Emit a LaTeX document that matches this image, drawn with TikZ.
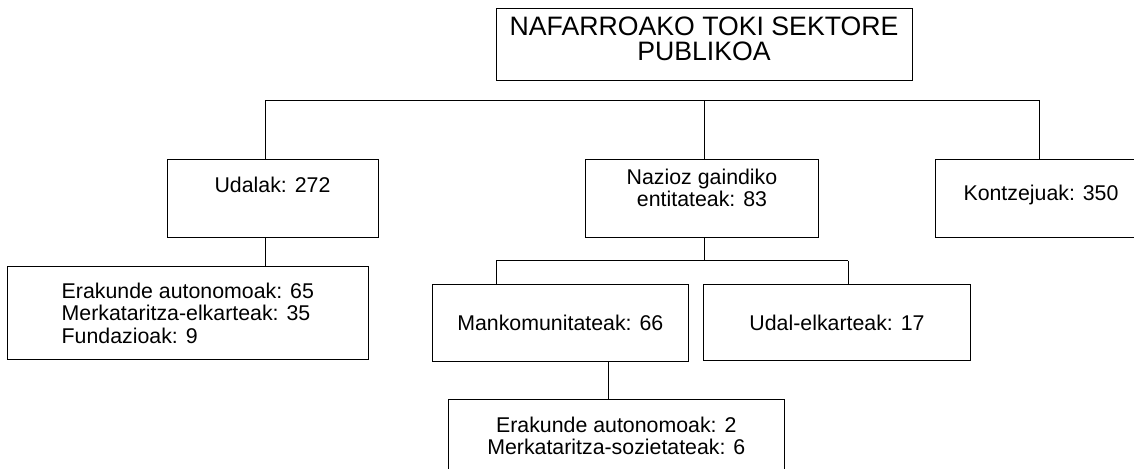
\documentclass[tikz,border=0pt]{standalone}
\usepackage{fontspec}
\setmainfont{Liberation Sans}

\tikzset{every picture/.style={line width=0.75pt}}
\tikzset{
	box/.style={draw, rectangle, inner sep=2pt, align=center, font=\fontsize{16}{17}\selectfont},
	headbox/.style={box, font=\fontsize{20}{19}\selectfont}
}

\begin{document}
\begin{tikzpicture}[x=0.75pt,y=0.75pt,yscale=-1,xscale=1]
		%set diagram to the page size
		\useasboundingbox (0,0) rectangle (1134,468);
		
		% Top box
		\node[headbox, minimum width=312pt, minimum height=54.2pt, text depth=9pt] (sektore) at (704,44.85) {NAFARROAKO TOKI SEKTORE\\PUBLIKOA};
		
		% First level
		\node[box, minimum width=158.25pt, minimum height=58.5pt, text depth=20pt] (udalak) at (272.5,198.3) {Udalak: 272};
		\node[box, minimum width=174.5pt, minimum height=58.5pt, text depth=15.6pt] (nazioz) at (702,198.3) {Nazioz gaindiko\\entitateak: 83};
		\node[box, minimum width=157.7pt, minimum height=58.5pt, text depth=8pt] (kontzejuak) at (1041,198.3) {Kontzejuak: 350};
		
		% Second level
		\node[box, align=left, minimum width=270.75pt, minimum height=70pt] (udalerakunde) at (187.8,313.3) {Erakunde autonomoak: 65\\Merkataritza-elkarteak: 35\\Fundazioak: 9};
		\node[box, minimum width=192pt, minimum height=57.5pt] (mankom) at (560.3,322.7) {Mankomunitateak: 66};
		\node[box, minimum width=200pt, minimum height=57.3pt] (udalelk) at (837,322.5) {Udal-elkarteak: 17};
		
		% Third level
		\node[box, minimum width=252pt, minimum height=55.5pt] (mankerakunde) at (616.3,436) {Erakunde autonomoak: 2\\Merkataritza-sozietateak: 6};
		
		% Junction points
		\coordinate (busL) at (265.7,100);
		\coordinate (busM) at (704,100);
		\coordinate (busR) at (1039,100);
		\coordinate (subL) at (496,260.7);
		\coordinate (subR) at (848.3,260.7);
		\coordinate (mankdrop) at (608.3,380);
		
		%Straight Lines
		\draw (busL) -- (busR);
		\draw (busL) -- (busL |- udalak.north);
		\draw (busM) -- (busM |- nazioz.north);
		\draw (busR) -- (busR |- kontzejuak.north);
		%Straight Lines
		\draw (busL |- udalak.south) -- (busL |- udalerakunde.north);
		\draw (busM |- nazioz.south) -- (busM |- subL);
		\draw (subL) -- (subR);
		\draw (subL) -- (subL |- mankom.north);
		\draw (subR) -- (subR |- udalelk.north);
		\draw (mankdrop |- mankom.south) -- (mankdrop |- mankerakunde.north);
		
\end{tikzpicture}
\end{document}
